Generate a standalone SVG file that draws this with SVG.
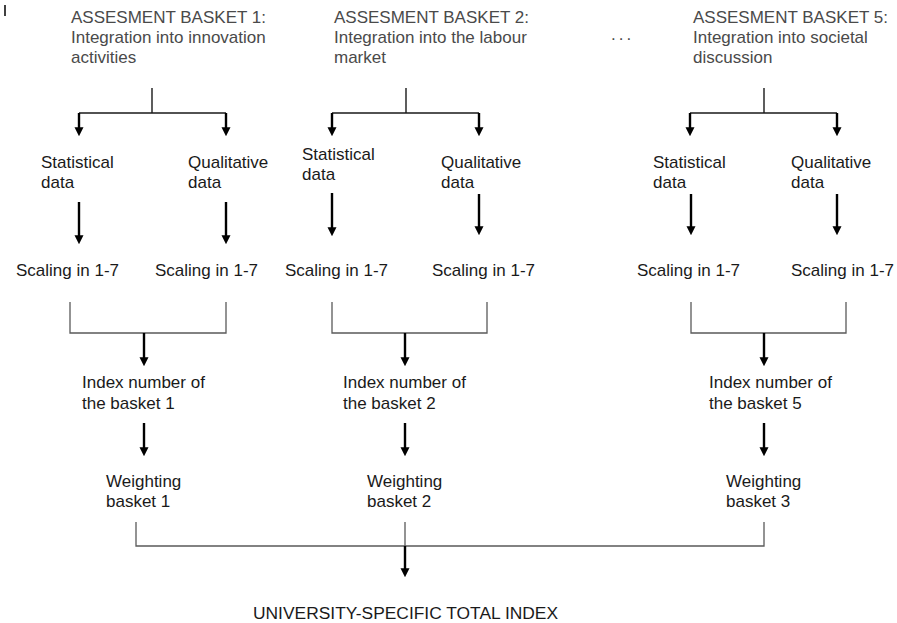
<svg xmlns="http://www.w3.org/2000/svg" width="897" height="623" viewBox="0 0 897 623">
<style>
  text { font-family: "Liberation Sans", Arial, sans-serif; font-size: 17px; fill: #1a1a1a; }
  .hdr { fill: #4a4a4a; }
  .big { font-size: 17.4px; }
  .arrow { stroke: #000; stroke-width: 2.4; fill: none; marker-end: url(#ah); }
  .fork { stroke: #1a1a1a; stroke-width: 1.4; fill: none; }
  .brk { stroke: #5a5a5a; stroke-width: 1.3; fill: none; }
</style>
<defs>
  <marker id="ah" viewBox="0 0 10 10" refX="2" refY="5" markerWidth="9" markerHeight="10" markerUnits="userSpaceOnUse" orient="auto">
    <path d="M0,0 L10,5 L0,10 z" fill="#000"/>
  </marker>
</defs>
<rect width="897" height="623" fill="#fff"/>
<line x1="5" y1="5" x2="5" y2="16" stroke="#000" stroke-width="1.5"/>

<g id="basket1">
  <text class="hdr" x="71" y="23">ASSESMENT BASKET 1:</text>
  <text class="hdr" x="71" y="43">Integration into innovation</text>
  <text class="hdr" x="71" y="63">activities</text>
</g>
<g id="basket2">
  <text class="hdr" x="334" y="23">ASSESMENT BASKET 2:</text>
  <text class="hdr" x="334" y="43">Integration into the labour</text>
  <text class="hdr" x="334" y="63">market</text>
</g>
<g id="ellipsis">
  <text class="hdr" x="611" y="40" letter-spacing="3">...</text>
</g>
<g id="basket5">
  <text class="hdr" x="693" y="23">ASSESMENT BASKET 5:</text>
  <text class="hdr" x="693" y="43">Integration into societal</text>
  <text class="hdr" x="693" y="63">discussion</text>
</g>

<g id="stat1"><text x="41" y="168">Statistical</text><text x="41" y="188">data</text></g>
<g id="qual1"><text x="188" y="168">Qualitative</text><text x="188" y="188">data</text></g>
<g id="stat2"><text x="302" y="160">Statistical</text><text x="302" y="180">data</text></g>
<g id="qual2"><text x="441" y="168">Qualitative</text><text x="441" y="188">data</text></g>
<g id="stat5"><text x="653" y="168">Statistical</text><text x="653" y="188">data</text></g>
<g id="qual5"><text x="791" y="168">Qualitative</text><text x="791" y="188">data</text></g>

<g id="scale1a"><text x="16" y="276">Scaling in 1-7</text></g>
<g id="scale1b"><text x="155" y="276">Scaling in 1-7</text></g>
<g id="scale2a"><text x="285" y="276">Scaling in 1-7</text></g>
<g id="scale2b"><text x="432" y="276">Scaling in 1-7</text></g>
<g id="scale5a"><text x="637" y="276">Scaling in 1-7</text></g>
<g id="scale5b"><text x="791" y="276">Scaling in 1-7</text></g>

<g id="index1"><text x="82" y="388">Index number of</text><text x="82" y="409">the basket 1</text></g>
<g id="index2"><text x="343" y="388">Index number of</text><text x="343" y="409">the basket 2</text></g>
<g id="index5"><text x="709" y="388">Index number of</text><text x="709" y="409">the basket 5</text></g>

<g id="weight1"><text x="106" y="487">Weighting</text><text x="106" y="507">basket 1</text></g>
<g id="weight2"><text x="367" y="487">Weighting</text><text x="367" y="507">basket 2</text></g>
<g id="weight3"><text x="726" y="487">Weighting</text><text x="726" y="507">basket 3</text></g>

<g id="total"><text class="big" x="253" y="619">UNIVERSITY-SPECIFIC TOTAL INDEX</text></g>

<g id="connectors">
  <path class="fork" d="M152,88 V113 M79,113 H226"/>
  <path class="fork" d="M406,88 V113 M332,113 H479"/>
  <path class="fork" d="M764,88 V113 M690,113 H837"/>
  <line class="arrow" x1="79" y1="113" x2="79" y2="129"/>
  <line class="arrow" x1="226" y1="113" x2="226" y2="129"/>
  <line class="arrow" x1="332" y1="113" x2="332" y2="129"/>
  <line class="arrow" x1="479" y1="113" x2="479" y2="129"/>
  <line class="arrow" x1="690" y1="113" x2="690" y2="129"/>
  <line class="arrow" x1="837" y1="113" x2="837" y2="129"/>
  <line class="arrow" x1="79" y1="202" x2="79" y2="237"/>
  <line class="arrow" x1="226" y1="202" x2="226" y2="237"/>
  <line class="arrow" x1="332" y1="193" x2="332" y2="229"/>
  <line class="arrow" x1="479" y1="194" x2="479" y2="228"/>
  <line class="arrow" x1="691" y1="194" x2="691" y2="228"/>
  <line class="arrow" x1="837" y1="194" x2="837" y2="228"/>
  <path class="brk" d="M70,302 V333 H226 V302"/>
  <path class="brk" d="M332,302 V333 H487 V302"/>
  <path class="brk" d="M691,302 V333 H846 V302"/>
  <line class="arrow" x1="144" y1="333" x2="144" y2="359"/>
  <line class="arrow" x1="405" y1="333" x2="405" y2="359"/>
  <line class="arrow" x1="764" y1="333" x2="764" y2="359"/>
  <line class="arrow" x1="144" y1="423" x2="144" y2="449"/>
  <line class="arrow" x1="405" y1="423" x2="405" y2="449"/>
  <line class="arrow" x1="764" y1="423" x2="764" y2="449"/>
  <path class="brk" d="M136,522 V546 H764 V522 M405,522 V546"/>
  <line class="arrow" x1="405" y1="546" x2="405" y2="570"/>
</g>
</svg>
